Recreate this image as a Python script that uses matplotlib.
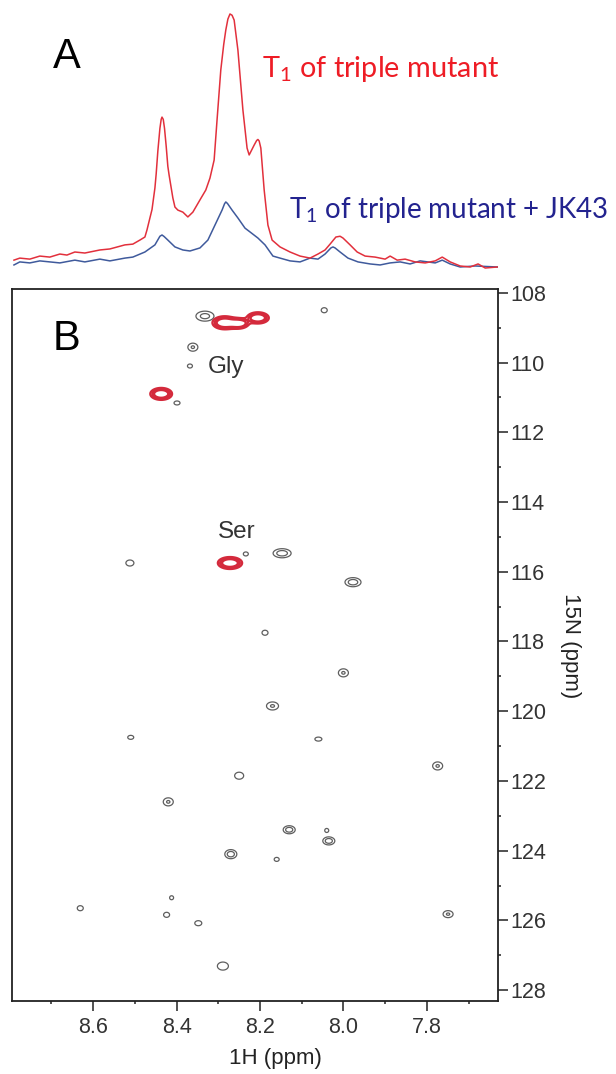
import numpy as np
import matplotlib
matplotlib.use("Agg")
import matplotlib.pyplot as plt
from matplotlib.ticker import MultipleLocator

plt.rcParams['font.family'] = ['Liberation Sans', 'DejaVu Sans']
plt.rcParams['mathtext.fontset'] = 'custom'
plt.rcParams['mathtext.rm'] = 'Lato'
plt.rcParams['mathtext.it'] = 'Lato:italic'

# ---------------- Panel A: 1D traces (ppm, relative intensity) ----------------
red_ppm = [8.79, 8.776, 8.752, 8.728, 8.704, 8.680, 8.663, 8.644, 8.620, 8.584, 8.560, 8.524,
           8.505, 8.488, 8.476, 8.471, 8.464, 8.459, 8.452, 8.449, 8.445, 8.440, 8.437, 8.435,
           8.432, 8.429, 8.425, 8.421, 8.418, 8.409, 8.404, 8.397, 8.385, 8.373, 8.361, 8.344,
           8.330, 8.320, 8.310, 8.303, 8.294, 8.287, 8.282, 8.277, 8.272, 8.267, 8.262, 8.253,
           8.241, 8.231, 8.226, 8.214, 8.208, 8.205, 8.202, 8.198, 8.190, 8.181, 8.171, 8.152,
           8.128, 8.104, 8.080, 8.061, 8.044, 8.032, 8.018, 8.008, 8.001, 7.984, 7.967, 7.948,
           7.924, 7.900, 7.888, 7.871, 7.852, 7.828, 7.804, 7.780, 7.763, 7.744, 7.720, 7.696,
           7.677, 7.660, 7.631]
red_int = [3.1, 3.9, 3.5, 4.7, 4.3, 5.5, 5.1, 6.3, 5.9, 7.1, 7.5, 9.1,
           9.4, 11.0, 12.2, 15.0, 19.7, 23.0, 31.5, 37.0, 46.0, 55.0, 58.5, 59.4,
           58.5, 55.0, 48.0, 40.0, 36.6, 27.6, 24.0, 22.8, 22.0, 20.1, 22.0, 26.8,
           30.7, 35.4, 42.5, 58.3, 78.0, 88.0, 93.7, 98.0, 100.0, 99.5, 97.6, 85.8,
           62.2, 47.2, 44.5, 48.4, 50.2, 50.6, 50.0, 47.2, 30.7, 16.9, 11.0, 8.3,
           6.3, 4.7, 3.9, 5.5, 7.1, 9.4, 12.2, 12.5, 11.8, 9.1, 6.3, 4.7,
           4.3, 3.5, 4.7, 3.1, 3.5, 2.4, 2.0, 2.8, 4.3, 2.4, 0.8, 0.4,
           1.6, 0.0, 0.4]

blue_ppm = [8.79, 8.776, 8.752, 8.728, 8.704, 8.680, 8.644, 8.620, 8.584, 8.560, 8.524, 8.505,
            8.476, 8.452, 8.440, 8.435, 8.430, 8.421, 8.404, 8.385, 8.368, 8.344, 8.325, 8.308,
            8.291, 8.285, 8.282, 8.278, 8.267, 8.253, 8.236, 8.224, 8.205, 8.188, 8.169, 8.152,
            8.128, 8.104, 8.080, 8.061, 8.044, 8.030, 8.025, 8.020, 8.008, 7.989, 7.965, 7.936,
            7.912, 7.888, 7.864, 7.840, 7.816, 7.780, 7.763, 7.744, 7.720, 7.684, 7.631]
blue_int = [1.2, 2.4, 2.0, 2.8, 2.4, 2.0, 3.1, 2.4, 3.5, 2.8, 3.9, 4.3,
            6.3, 9.1, 12.5, 13.0, 12.4, 11.0, 8.3, 7.1, 6.7, 7.9, 11.0, 16.9,
            22.8, 25.3, 26.0, 25.4, 22.8, 19.7, 15.7, 14.2, 11.8, 9.1, 4.7, 3.9,
            2.8, 2.4, 3.9, 3.5, 5.5, 7.9, 8.3, 7.9, 6.3, 3.9, 2.4, 1.6,
            1.2, 2.0, 2.4, 1.6, 2.8, 2.0, 3.1, 1.6, 0.4, 0.8, 0.4]

# ---------------- Panel B: HSQC peak lists ----------------
# gray peaks: 1H ppm, 15N ppm, half-width 1H (ppm), half-width 15N (ppm), relative height
gray_h  = [8.332, 8.046, 8.361, 8.368, 8.399, 8.234, 8.147, 8.512, 7.977, 8.188, 8.000, 8.170,
           8.510, 8.060, 7.774, 8.250, 8.420, 8.130, 8.040, 8.035, 8.270, 8.160, 8.412, 8.631,
           8.424, 8.348, 8.289, 7.749]
gray_n  = [108.67, 108.50, 109.56, 110.10, 111.16, 115.49, 115.47, 115.75, 116.30, 117.75, 118.90, 119.85,
           120.75, 120.80, 121.57, 121.85, 122.60, 123.40, 123.42, 123.72, 124.10, 124.25, 125.35, 125.65,
           125.84, 126.08, 127.31, 125.82]
gray_wh = [0.0216, 0.0072, 0.012, 0.006, 0.0072, 0.006, 0.0216, 0.0096, 0.0192, 0.0072, 0.012, 0.0144,
           0.0072, 0.0084, 0.012, 0.0108, 0.012, 0.0144, 0.0048, 0.0144, 0.0144, 0.006, 0.0048, 0.0072,
           0.0072, 0.0084, 0.0132, 0.012]
gray_wn = [0.143, 0.072, 0.115, 0.057, 0.057, 0.057, 0.13, 0.086, 0.13, 0.072, 0.115, 0.115,
           0.057, 0.057, 0.115, 0.10, 0.115, 0.115, 0.057, 0.115, 0.13, 0.057, 0.057, 0.072,
           0.072, 0.072, 0.115, 0.10]
gray_amp = [0.6, 0.3, 0.5, 0.3, 0.3, 0.3, 0.7, 0.4, 0.7, 0.3, 0.5, 0.5,
            0.3, 0.35, 0.5, 0.45, 0.5, 0.7, 0.3, 0.7, 0.7, 0.3, 0.3, 0.35,
            0.35, 0.35, 0.4, 0.5]

red_h  = [8.285, 8.250, 8.205, 8.437, 8.272]
red_n  = [108.86, 108.88, 108.72, 110.90, 115.75]
red_wh = [0.029, 0.022, 0.026, 0.026, 0.029]
red_wn = [0.186, 0.14, 0.16, 0.17, 0.17]

gray_levels = [0.2, 0.45, 0.7]
red_levels = [0.25, 0.4, 0.55]

x_ticks = [8.6, 8.4, 8.2, 8.0, 7.8]
y_ticks = [108, 110, 112, 114, 116, 118, 120, 122, 124, 126, 128]

XLIM = (8.794, 7.630)
YLIM = (128.32, 107.90)

W, H = 616, 1074
fig = plt.figure(figsize=(W / 100, H / 100), dpi=100)

L, R = 12.3, 497.7
TOP_B, BOT_B = 289.3, 1001.3

# ---- Panel A ----
axA = fig.add_axes([L / W, 1 - 280 / H, (R - L) / W, 280 / H])
axA.plot(blue_ppm, blue_int, color='#3f5a9c', lw=1.1)
axA.plot(red_ppm, red_int, color='#e2303c', lw=1.1)
axA.set_xlim(*XLIM)
axA.set_ylim(-4.72, 105.5)
axA.axis('off')

fig.text(53 / W, 1 - 68 / H, 'A', fontsize=30, color='black', va='baseline', ha='left')
fig.text(262 / W, 1 - 77 / H, r'T$_1$ of triple mutant', fontsize=20.8, color='#ee1c25',
         va='baseline', ha='left', family=['Lato', 'DejaVu Sans'])
fig.text(289 / W, 1 - 218 / H, r'T$_1$ of triple mutant + JK43', fontsize=20.0, color='#23238f',
         va='baseline', ha='left', family=['Lato', 'DejaVu Sans'])

# ---- Panel B ----
axB = fig.add_axes([L / W, 1 - BOT_B / H, (R - L) / W, (BOT_B - TOP_B) / H])

xg = np.linspace(7.60, 8.82, 1500)
yg = np.linspace(107.7, 128.5, 1200)


def spectrum(hs, ns, whs, wns, amps, base):
    Z = np.zeros((yg.size, xg.size))
    for h, n, wh, wn, a in zip(hs, ns, whs, wns, amps):
        k = np.sqrt(2 * np.log(a / base))
        sx, sy = wh / k, wn / k
        gx = np.exp(-0.5 * ((xg - h) / sx) ** 2)
        gy = np.exp(-0.5 * ((yg - n) / sy) ** 2)
        Z += a * np.outer(gy, gx)
    return Z


Zg = spectrum(gray_h, gray_n, gray_wh, gray_wn, gray_amp, gray_levels[0])
Zr = spectrum(red_h, red_n, red_wh, red_wn, [1.0] * len(red_h), red_levels[0])

axB.contour(xg, yg, Zg, levels=gray_levels, colors='#5e5e5e', linewidths=0.9)
axB.contour(xg, yg, Zr, levels=red_levels, colors='#d42a3c', linewidths=1.7)

axB.set_xlim(*XLIM)
axB.set_ylim(*YLIM)

axB.text(8.325, 110.30, 'Gly', fontsize=17.5, color='#333333', va='baseline', ha='left')
axB.text(8.302, 115.04, 'Ser', fontsize=17.5, color='#333333', va='baseline', ha='left')
fig.text(53 / W, 1 - 350 / H, 'B', fontsize=30, color='black', va='baseline', ha='left')

axB.yaxis.tick_right()
axB.yaxis.set_label_position('right')
axB.set_xticks(x_ticks)
axB.set_xticklabels([f'{v:.1f}' for v in x_ticks])
axB.set_yticks(y_ticks)
axB.set_yticklabels([str(v) for v in y_ticks])
axB.xaxis.set_minor_locator(MultipleLocator(0.1))
axB.yaxis.set_minor_locator(MultipleLocator(1))
axB.tick_params(which='major', direction='out', length=7, width=1.2, labelsize=15.5,
                labelcolor='#333333', color='#333333', pad=4)
axB.tick_params(axis='y', which='major', pad=2)
axB.tick_params(which='minor', direction='out', length=2.5, width=1.2, color='#333333')
for s in axB.spines.values():
    s.set_linewidth(1.3)
    s.set_color('#222222')

axB.set_xlabel('1H (ppm)', fontsize=16, color='#222222', labelpad=2)
axB.xaxis.set_label_coords(0.543, -0.065)
axB.set_ylabel('15N (ppm)', fontsize=16, color='#222222', rotation=270, labelpad=25)

fig.savefig('out.png', dpi=100)
